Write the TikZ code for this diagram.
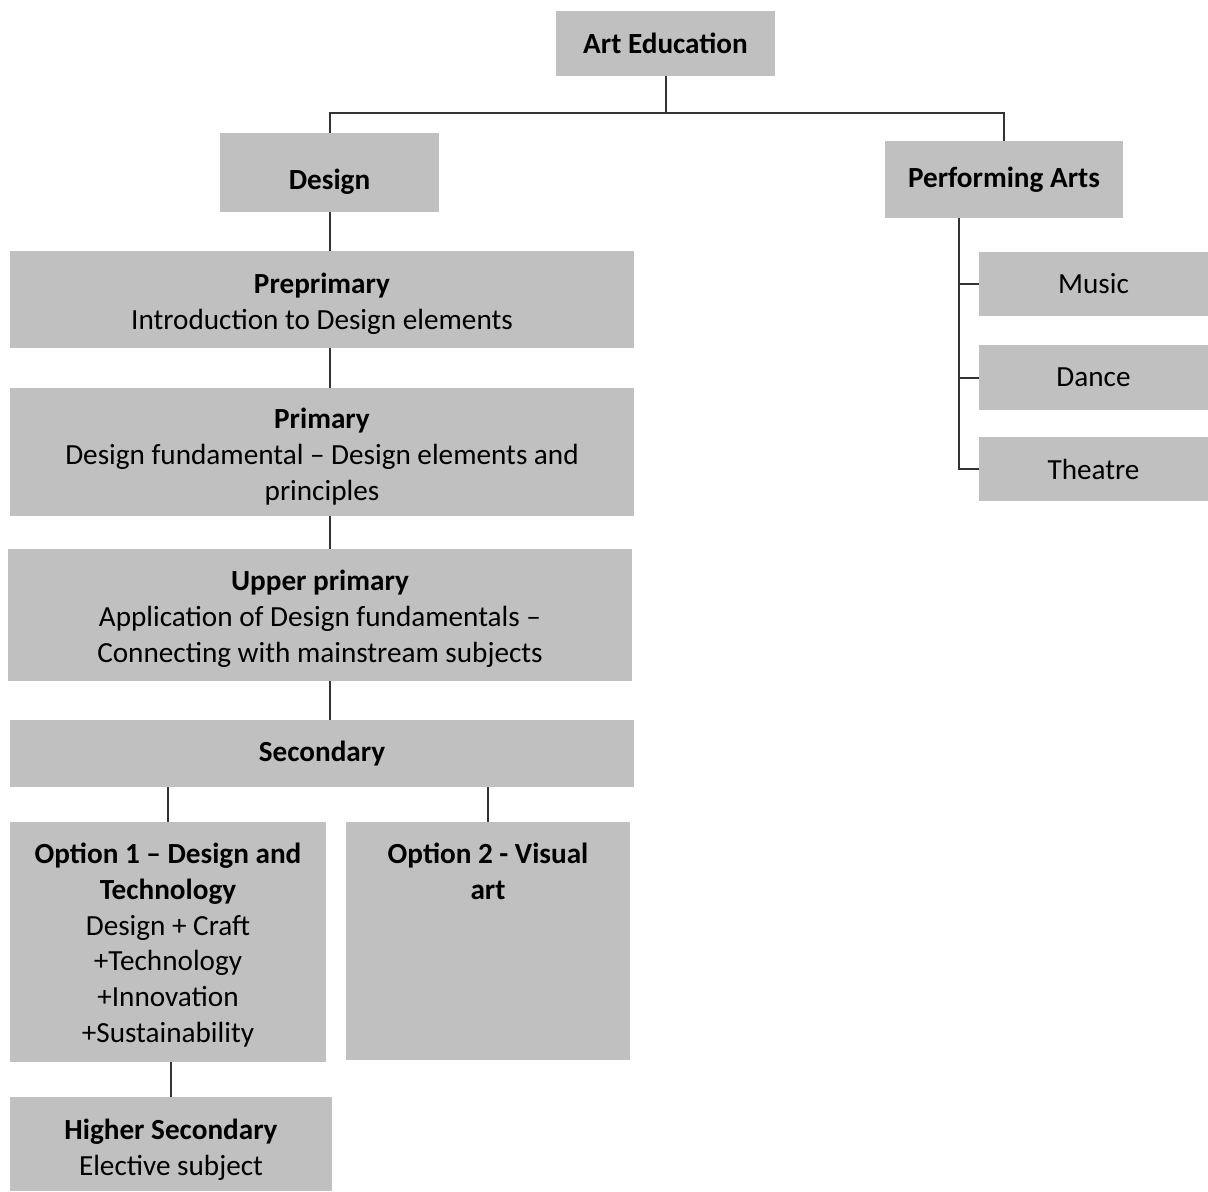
\documentclass[tikz,border=0pt]{standalone}
\usepackage{fontspec}
\setmainfont{Carlito}
\usepackage{tikz}
\usetikzlibrary{positioning, calc}
\usepackage{xcolor}
\definecolor{ink}    {HTML}{000000}
\definecolor{boxgray}{HTML}{C0C0C0}
\definecolor{wire}   {HTML}{333333}
\tikzset{
  box/.style    = {fill=boxgray, draw=none, inner sep=0pt, align=center,
                   text=ink, font=\fontsize{14.6}{17.9}\selectfont},
  wide/.style   = {box, minimum width=312pt},
  leaf/.style   = {box, minimum width=114.5pt, minimum height=32pt},
  link/.style   = {draw=wire, line width=1pt},
}

\begin{document}
\begin{tikzpicture}[x=0.5pt, y=-0.5pt]
  \useasboundingbox (0,0) rectangle (1208,1191);

  % top levels
  \node[box, minimum width=109.5pt, minimum height=32.5pt] (art)
    at (665.5,43.5) {\textbf{Art Education}};
  \node[box, minimum width=109.5pt, minimum height=39.5pt,
        text height=20.2pt, text depth=3pt] (design)
    at (329.5,172.5) {\textbf{Design}};
  \node[box, minimum width=119pt, minimum height=38.5pt] (perf)
    at (1004,179.5) {\textbf{Performing Arts}};

  % design stages
  \node[wide, minimum height=48.5pt, text height=32.4pt] (pre) at (322,299.5)
    {\textbf{Preprimary}\\Introduction to Design elements};
  \node[wide, minimum height=64pt, text height=50.4pt] (prim) at (322,452)
    {\textbf{Primary}\\Design fundamental -- Design elements and\\principles};
  \node[wide, minimum height=66pt, text height=49.9pt] (upper) at (320,615)
    {\textbf{Upper primary}\\Application of Design fundamentals --\\Connecting with mainstream subjects};
  \node[wide, minimum height=33.5pt] (sec) at (322,753.5)
    {\textbf{Secondary}};

  % secondary options
  \node[box, minimum width=158pt, minimum height=120pt, text height=102.9pt]
    (opt1) at (168,942)
    {\textbf{Option 1 -- Design and}\\\textbf{Technology}\\Design + Craft\\+Technology\\+Innovation\\+Sustainability};
  \node[box, minimum width=142pt, minimum height=119pt,
        label={[name=opt2txt, box, fill=none, anchor=north, yshift=-10.5pt]north:%
          \textbf{Option 2 - Visual}\\\textbf{art}}] (opt2) at (488,941) {};
  \node[box, minimum width=161pt, minimum height=47pt, text height=33.9pt]
    (higher) at (171,1144)
    {\textbf{Higher Secondary}\\Elective subject};

  % performing arts
  \node[leaf] (music)   at (1093.5,284)   {Music};
  \node[leaf, minimum height=32.5pt] (dance) at (1093.5,377.5) {Dance};
  \node[leaf] (theatre) at (1093.5,469)   {Theatre};

  % connectors
  \draw[link] (art.south) -- ++(0,37) coordinate (hub);
  \draw[link] (design.north) |- (hub) -| (perf.north);

  \draw[link] (design.south) -- (design.south |- pre.north);
  \draw[link] (design.south |- pre.south) -- (design.south |- prim.north);
  \draw[link] (design.south |- prim.south) -- (design.south |- upper.north);
  \draw[link] (design.south |- upper.south) -- (design.south |- sec.north);
  \draw[link] (opt1.north |- sec.south) -- (opt1.north);
  \draw[link] (opt2.north |- sec.south) -- (opt2.north);
  \draw[link] (higher.north |- opt1.south) -- (higher.north);

  \coordinate (pspine) at ([xshift=37pt]perf.south west);
  \draw[link] (pspine) |- (theatre.west);
  \draw[link] (pspine |- music.west) -- (music.west);
  \draw[link] (pspine |- dance.west) -- (dance.west);

\end{tikzpicture}
\end{document}
